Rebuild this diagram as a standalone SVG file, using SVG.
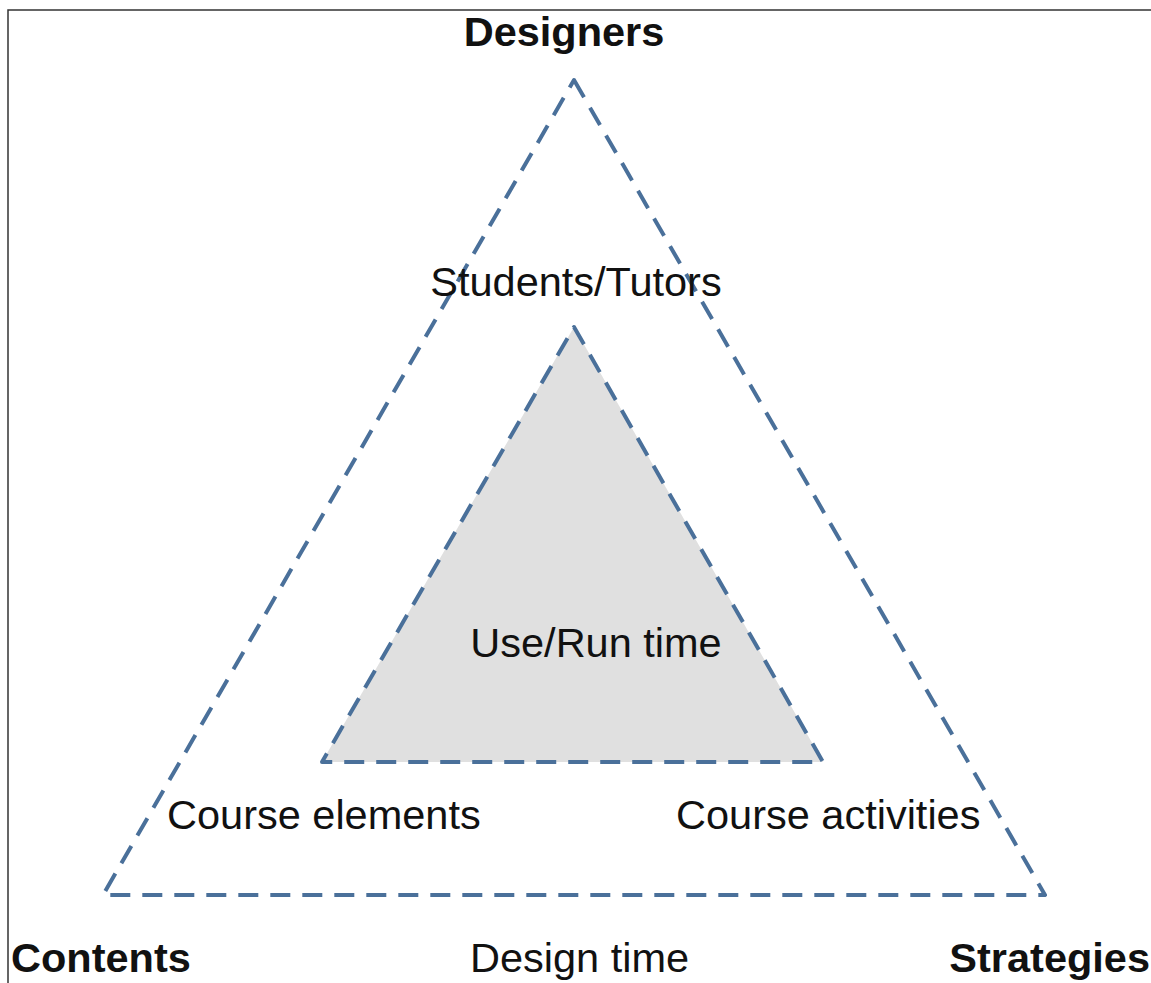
<svg xmlns="http://www.w3.org/2000/svg" width="1151" height="983" viewBox="0 0 1151 983">
<style>
.tri{stroke:#4a709a;stroke-width:4;stroke-dasharray:20 12;stroke-linejoin:round}
.lbl{font-family:"Liberation Sans",Arial,sans-serif;font-size:41.5px;fill:#111}
.b{font-weight:bold}
</style>
<rect width="1151" height="983" fill="#ffffff"/>
<path d="M8,983 V10 H1151" fill="none" stroke="#333" stroke-width="1.5"/>
<g id="connectors">
<polygon id="outer" class="tri" points="574,80 1045,895 103,895" fill="none"/>
<polygon id="inner" class="tri" points="574,327 823,762 322,762" fill="#e0e0e0"/>
</g>
<g id="designers"><text class="lbl b" x="564" y="46" text-anchor="middle">Designers</text></g>
<g id="students"><text class="lbl" x="576" y="296" text-anchor="middle">Students/Tutors</text></g>
<g id="userun"><text class="lbl" x="596" y="657" text-anchor="middle">Use/Run time</text></g>
<g id="elements"><text class="lbl" x="167" y="829">Course elements</text></g>
<g id="activities"><text class="lbl" x="676" y="829">Course activities</text></g>
<g id="contents"><text class="lbl b" x="11" y="972">Contents</text></g>
<g id="designtime"><text class="lbl" x="470" y="972">Design time</text></g>
<g id="strategies"><text class="lbl b" x="1150" y="972" text-anchor="end">Strategies</text></g>
</svg>
